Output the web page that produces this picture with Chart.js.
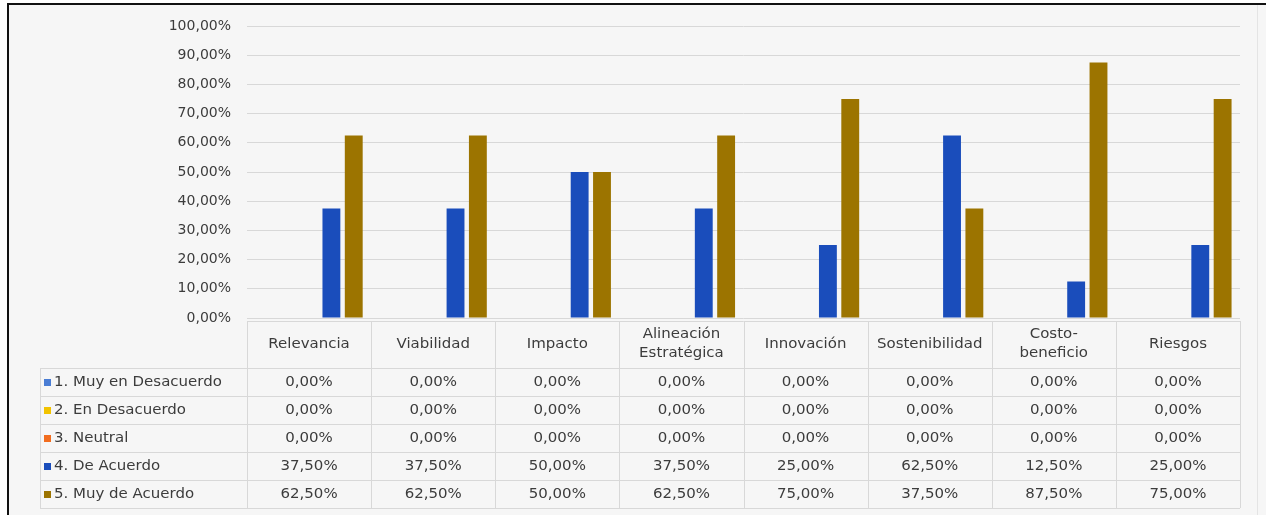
<!DOCTYPE html>
<html>
<head>
<meta charset="utf-8">
<script src="https://cdn.jsdelivr.net/npm/chart.js@4.4.1/dist/chart.umd.min.js"></script>
<style>
  html, body { margin: 0; padding: 0; background: #ffffff; }
  #wrap { width: 1266px; height: 515px; position: relative; }
</style>
</head>
<body>
<div id="wrap"><canvas id="bar_chart" width="1266" height="515"></canvas></div>
<script>
// categorias (las que llevan dos lineas van como arreglo)
var categorias = ["Relevancia", "Viabilidad", "Impacto", ["Alineación", "Estratégica"], "Innovación", "Sostenibilidad", ["Costo-", "beneficio"], "Riesgos"];
var series = ["1. Muy en Desacuerdo", "2. En Desacuerdo", "3. Neutral", "4. De Acuerdo", "5. Muy de Acuerdo"];
var colores = ["#4a7dd4", "#f2c300", "#f26d1f", "#1a4dbb", "#9c7400"];

var muyDesacuerdo = [0, 0, 0, 0, 0, 0, 0, 0];
var desacuerdo = [0, 0, 0, 0, 0, 0, 0, 0];
var neutral = [0, 0, 0, 0, 0, 0, 0, 0];
var deAcuerdo = [37.5, 37.5, 50, 37.5, 25, 62.5, 12.5, 25];
var muyDeAcuerdo = [62.5, 62.5, 50, 62.5, 75, 37.5, 87.5, 75];

var valores = [muyDesacuerdo, desacuerdo, neutral, deAcuerdo, muyDeAcuerdo];
var ticksY = [0, 10, 20, 30, 40, 50, 60, 70, 80, 90, 100];

function pct(v) {
    return v.toFixed(2).replace(".", ",") + "%";
}

var fuente = "'DejaVu Sans', 'Liberation Sans', sans-serif";
var colorTexto = "#3c3c3c";
var colorLinea = "#d8d8d8";

// texto un poco ensanchado como en la imagen original
function texto(ctx, t, x, y, align) {
    var k = 1.07;
    ctx.save();
    ctx.translate(x, y);
    ctx.scale(k, 1);
    ctx.textAlign = align;
    ctx.textBaseline = "middle";
    ctx.fillText(t, 0, 0);
    ctx.restore();
}

var marco = {
    id: "marco",
    beforeDraw: function(chart) {
        var ctx = chart.ctx;
        ctx.save();
        ctx.fillStyle = "#f6f6f6";
        ctx.fillRect(8, 4, 1258, 511);
        ctx.fillStyle = "#111111";
        ctx.fillRect(7, 3, 1259, 2);
        ctx.fillRect(7, 3, 2, 512);
        ctx.fillStyle = "#e4e4e4";
        ctx.fillRect(1257, 5, 1, 510);
        ctx.restore();
    }
};

var tabla = {
    id: "tabla",
    afterDraw: function(chart) {
        var ctx = chart.ctx;
        var area = chart.chartArea;
        var x = chart.scales.x;
        var n = categorias.length;
        var ancho = (area.right - area.left) / n;
        var topCab = 321, topFilas = 368, alto = 28;
        var fondo = topFilas + alto * series.length;
        var izq = 40;

        ctx.save();
        ctx.strokeStyle = colorLinea;
        ctx.lineWidth = 1;
        ctx.beginPath();
        // lineas horizontales
        ctx.moveTo(area.left, topCab + 0.5);
        ctx.lineTo(area.right, topCab + 0.5);
        for (var r = 0; r <= series.length; r++) {
            var yy = topFilas + alto * r + 0.5;
            ctx.moveTo(izq, yy);
            ctx.lineTo(area.right, yy);
        }
        // lineas verticales
        for (var c = 0; c <= n; c++) {
            var xx = Math.round(area.left + ancho * c) + 0.5;
            ctx.moveTo(xx, topCab);
            ctx.lineTo(xx, fondo);
        }
        ctx.moveTo(izq + 0.5, topFilas);
        ctx.lineTo(izq + 0.5, fondo);
        ctx.stroke();

        ctx.fillStyle = colorTexto;
        ctx.font = "14px " + fuente;
        // encabezados
        for (var i = 0; i < n; i++) {
            var cx = x.getPixelForValue(i);
            var lab = categorias[i];
            if (Array.isArray(lab)) {
                texto(ctx, lab[0], cx, 334, "center");
                texto(ctx, lab[1], cx, 353, "center");
            } else {
                texto(ctx, lab, cx, 344, "center");
            }
        }
        // filas
        for (var s = 0; s < series.length; s++) {
            var cy = topFilas + alto * s + alto / 2;
            ctx.fillStyle = colores[s];
            ctx.fillRect(44, cy - 3, 7, 7);
            ctx.fillStyle = colorTexto;
            texto(ctx, series[s], 54, cy, "left");
            for (var j = 0; j < n; j++) {
                texto(ctx, pct(valores[s][j]), x.getPixelForValue(j), cy, "center");
            }
        }
        ctx.restore();
    }
};

var data = {
    labels: categorias,
    datasets: series.map(function(nombre, k) {
        return {
            label: nombre,
            data: valores[k],
            backgroundColor: colores[k],
            borderWidth: 0
        };
    })
};

var opciones = {
    responsive: false,
    animation: false,
    events: [],
    layout: { padding: { top: 26, right: 26, bottom: 197, left: 0 } },
    plugins: { legend: { display: false }, tooltip: { enabled: false } },
    datasets: { bar: { categoryPercentage: 0.9, barPercentage: 0.8 } },
    scales: {
        x: { display: false },
        y: {
            min: 0,
            max: 100,
            afterFit: function(s) { s.width = 247; },
            afterBuildTicks: function(s) { s.ticks = ticksY.map(function(v) { return { value: v }; }); },
            ticks: {
                padding: 16,
                color: colorTexto,
                font: { family: fuente, size: 14 },
                callback: function(v) { return pct(v); }
            },
            grid: { color: colorLinea, drawTicks: false },
            border: { display: false }
        }
    }
};

var ctx = document.getElementById("bar_chart").getContext("2d");
new Chart(ctx, { type: "bar", data: data, options: opciones, plugins: [marco, tabla] });
</script>
</body>
</html>
